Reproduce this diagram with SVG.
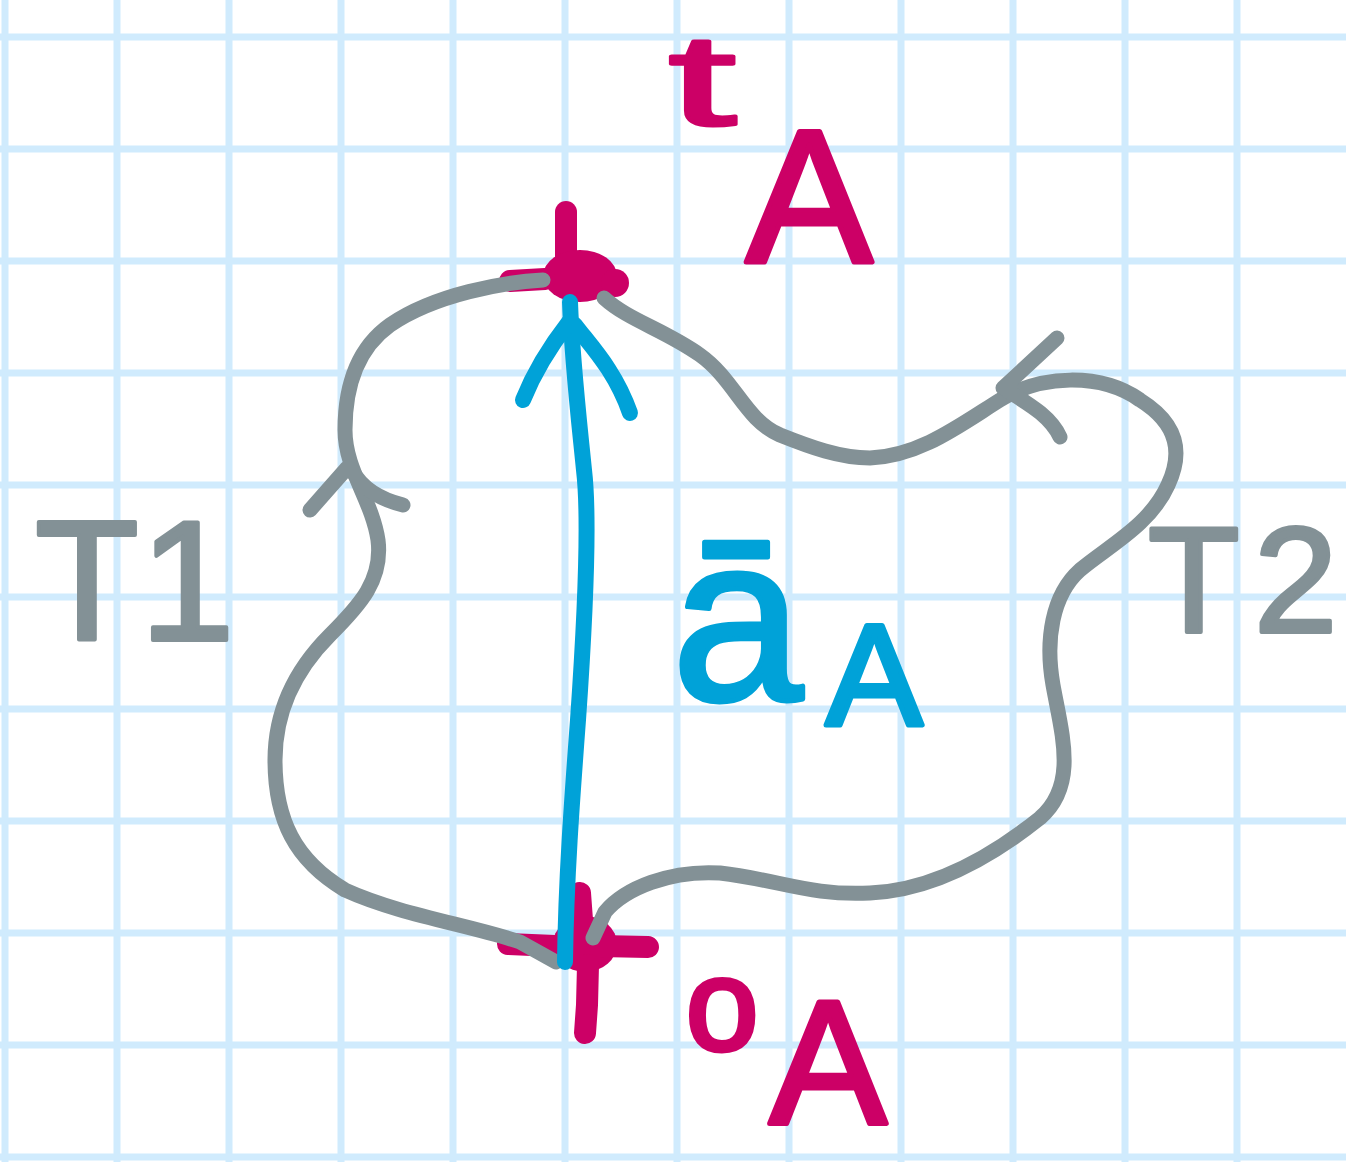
<svg xmlns="http://www.w3.org/2000/svg" width="1346" height="1162" viewBox="0 0 1346 1162">
<defs>
<style>
.grid{stroke:#d0ebfd;stroke-width:7;fill:none}
.gray{stroke:#839196;stroke-width:15;fill:none;stroke-linecap:round;stroke-linejoin:round}
.blue{stroke:#00a2d8;stroke-width:16;fill:none;stroke-linecap:round;stroke-linejoin:round}
.mag{stroke:#cc0066;stroke-width:22;fill:none;stroke-linecap:round;stroke-linejoin:round}
.magf{fill:#cc0066}
.lbl{font-family:"Liberation Sans",Arial,sans-serif;stroke-linejoin:round}
.lm{fill:#cc0066;stroke:#cc0066}
.lg{fill:#839196;stroke:#839196}
.lb{fill:#00a2d8;stroke:#00a2d8}
</style>
</defs>
<rect width="1346" height="1162" fill="#ffffff"/>
<g id="grid" class="grid">
<path d="M5 0V1162M117 0V1162M229 0V1162M341 0V1162M453 0V1162M565 0V1162M677 0V1162M789 0V1162M901 0V1162M1013 0V1162M1125 0V1162M1237 0V1162"/>
<path d="M0 37H1346M0 149H1346M0 261H1346M0 373H1346M0 485H1346M0 597H1346M0 709H1346M0 821H1346M0 933H1346M0 1045H1346M0 1157H1346"/>
</g>
<g id="point-tA">
<path class="mag" d="M566 212L566 262"/>
<ellipse class="magf" cx="580" cy="276" rx="37" ry="26"/>
<circle class="magf" cx="615" cy="283" r="14"/>
<path class="mag" stroke-width="14" d="M510 281L545 279"/>
</g>
<g id="point-oA">
<ellipse class="magf" cx="585" cy="944" rx="32" ry="28"/>
<path class="mag" stroke-width="18" d="M600 946L648 947"/>
<path class="mag" stroke-width="18" d="M508 944L555 946"/>
<path class="mag" stroke-width="18" d="M588 965L587 1005L585 1033"/>
<path class="mag" stroke-width="14" d="M580 893L582 920"/>
</g>
<g id="connectors">
<path id="T1" class="gray" d="M543 280C505 282,435 294,390 325C355 350,345 390,345 430C345 470,372 500,378 540C383 580,360 605,330 635C295 670,275 710,275 760C275 820,295 860,345 890C400 915,470 925,520 942L556 962"/>
<path class="gray" d="M347 468L310 510M352 470C360 485,375 498,403 505"/>
<path id="T2" class="gray" d="M604 298C628 320,665 330,700 355C735 380,745 420,780 435C810 447,840 458,870 458C920 456,960 425,1000 400C1040 375,1100 372,1140 400C1180 425,1182 455,1168 485C1150 525,1110 545,1080 570C1052 595,1045 640,1053 685C1062 735,1078 785,1040 818C1000 850,940 890,870 893C810 896,780 880,720 873C670 870,625 888,605 912L593 938"/>
<path class="gray" d="M1003 388L1057 338M1008 391C1025 402,1050 415,1060 437"/>
<path id="aA" class="blue" d="M565 962C566 880,572 800,578 720C585 620,590 520,584 470C579 420,572 360,570 302"/>
<path class="blue" d="M569 322C555 340,535 370,523 400M575 325C590 345,615 370,630 413"/>
</g>
<g id="labels" class="lbl">
<text class="lm" font-size="130" stroke-width="3" transform="translate(668,125) scale(1.9,1)">t</text>
<text class="lm" x="809" y="262" font-size="190" stroke-width="5" text-anchor="middle">A</text>
<text class="lg" x="35 140" y="640" font-size="170" stroke-width="4">T1</text>
<text class="lg" x="1148 1254" y="632" font-size="150" stroke-width="4">T2</text>
<text class="lb" x="672" y="700" font-size="235" stroke-width="5">ā<tspan x="874" y="725" font-size="145" text-anchor="middle">A</tspan></text>
<text class="lm" x="686" y="1050" font-size="130" stroke-width="5">o</text>
<text class="lm" x="828" y="1124" font-size="176" stroke-width="5" text-anchor="middle">A</text>
</g>
</svg>
